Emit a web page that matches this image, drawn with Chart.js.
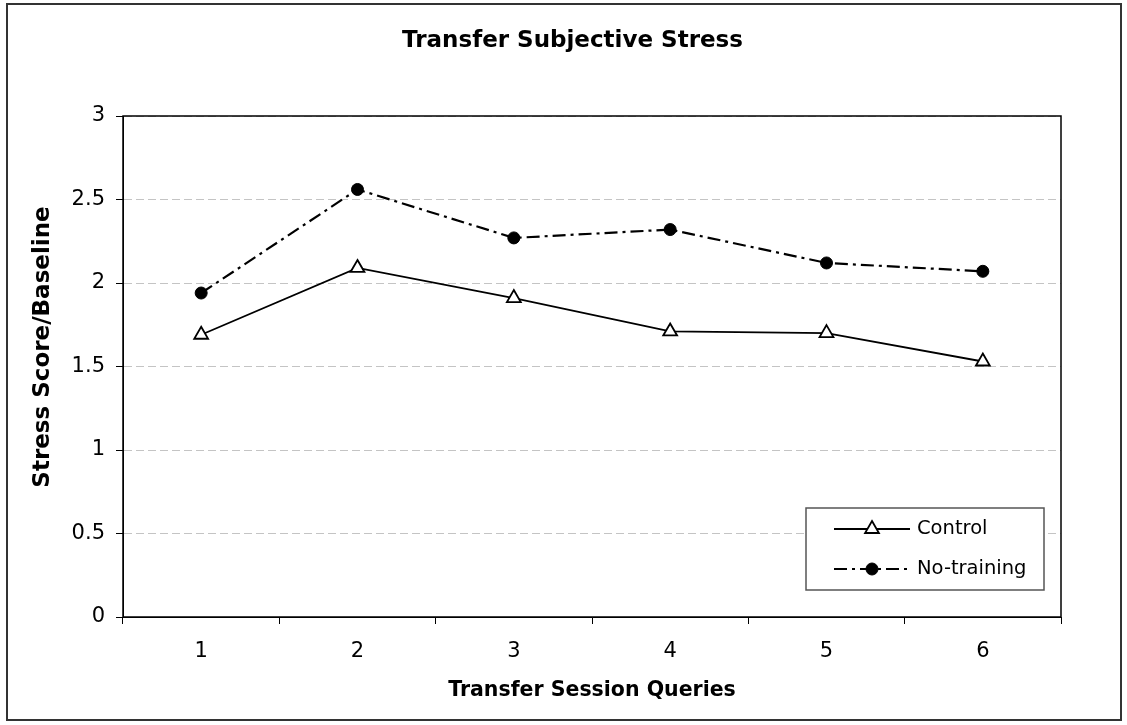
<!DOCTYPE html>
<html>
<head>
<meta charset="utf-8">
<script src="https://cdn.jsdelivr.net/npm/chart.js@4.4.0/dist/chart.umd.min.js"></script>
<style>
  html, body { margin: 0; padding: 0; background: #fff; }
  #wrap { width: 1127px; height: 725px; }
</style>
</head>
<body>
<div id="wrap"><canvas id="chart" width="1127" height="725"></canvas></div>
<script>
const queries = ['1', '2', '3', '4', '5', '6'];
const control = [1.69, 2.09, 1.91, 1.71, 1.70, 1.53];
const noTraining = [1.94, 2.56, 2.27, 2.32, 2.12, 2.07];
const yMin = 0, yMax = 3, yStep = 0.5;

const FONT = '"DejaVu Sans", "Liberation Sans", Arial, sans-serif';
Chart.defaults.font.family = FONT;
Chart.defaults.color = '#000';

// white page, outer frame and the box round the plot area
const framePlugin = {
  id: 'frame',
  beforeDraw(chart) {
    const {ctx, width, height} = chart;
    ctx.save();
    ctx.fillStyle = '#fff';
    ctx.fillRect(0, 0, width, height);
    ctx.restore();
  },
  afterDraw(chart) {
    const {ctx, chartArea: a} = chart;
    ctx.save();
    ctx.strokeStyle = '#000';
    ctx.lineWidth = 1.5;
    ctx.strokeRect(a.left, a.top, a.right - a.left, a.bottom - a.top);
    ctx.strokeStyle = '#333';
    ctx.lineWidth = 2;
    ctx.strokeRect(7, 4, 1114, 716);
    ctx.restore();
  }
};

// y axis title sits a bit above the middle of the plot in the original
const yTitlePlugin = {
  id: 'yTitle',
  afterDraw(chart) {
    const {ctx} = chart;
    ctx.save();
    ctx.translate(43, 347);
    ctx.rotate(-Math.PI / 2);
    ctx.font = 'bold 23px ' + FONT;
    ctx.fillStyle = '#000';
    ctx.textAlign = 'center';
    ctx.textBaseline = 'middle';
    ctx.fillText('Stress Score/Baseline', 0, 0);
    ctx.restore();
  }
};

// legend box drawn inside the plot, bottom right
const insideLegend = {
  id: 'insideLegend',
  afterDraw(chart) {
    const {ctx, chartArea: a} = chart;
    const w = 238, h = 82;
    const left = a.right - 17 - w, top = a.bottom - 27 - h;
    ctx.save();
    ctx.fillStyle = '#fff';
    ctx.fillRect(left, top, w, h);
    ctx.strokeStyle = '#555';
    ctx.lineWidth = 1.5;
    ctx.strokeRect(left, top, w, h);
    chart.data.datasets.forEach((ds, i) => {
      const y = top + 21 + i * 40;
      ctx.strokeStyle = ds.borderColor;
      ctx.lineWidth = ds.borderWidth;
      ctx.setLineDash(ds.borderDash || []);
      ctx.beginPath();
      ctx.moveTo(left + 28, y);
      ctx.lineTo(left + 104, y);
      ctx.stroke();
      ctx.setLineDash([]);
      ctx.fillStyle = ds.pointBackgroundColor;
      ctx.strokeStyle = ds.pointBorderColor;
      ctx.lineWidth = ds.pointBorderWidth;
      Chart.helpers.drawPoint(ctx, {
        pointStyle: ds.pointStyle, radius: ds.pointRadius,
        borderWidth: ds.pointBorderWidth, rotation: 0
      }, left + 66, y);
      ctx.fillStyle = '#000';
      ctx.font = '19.5px ' + FONT;
      ctx.textAlign = 'left';
      ctx.textBaseline = 'middle';
      ctx.fillText(ds.label, left + 111, y);
    });
    ctx.restore();
  }
};

new Chart(document.getElementById('chart'), {
  type: 'line',
  data: {
    labels: queries,
    datasets: [
      {
        label: 'Control',
        data: control,
        borderColor: '#000',
        borderWidth: 1.8,
        pointStyle: 'triangle',
        pointRadius: 8,
        pointBackgroundColor: '#fff',
        pointBorderColor: '#000',
        pointBorderWidth: 1.8,
        tension: 0
      },
      {
        label: 'No-training',
        data: noTraining,
        borderColor: '#000',
        borderWidth: 2.2,
        borderDash: [13, 5, 3, 5],
        pointStyle: 'circle',
        pointRadius: 6,
        pointBackgroundColor: '#000',
        pointBorderColor: '#000',
        pointBorderWidth: 1,
        tension: 0
      }
    ]
  },
  options: {
    responsive: false,
    animation: false,
    devicePixelRatio: 1,
    layout: { padding: { left: 18, right: 0, top: 0, bottom: 0 } },
    plugins: {
      legend: { display: false },
      tooltip: { enabled: false },
      title: {
        display: true,
        text: 'Transfer Subjective Stress',
        font: { size: 23, weight: 'bold', family: FONT },
        color: '#000',
        padding: { top: 27, bottom: 61.4 }
      }
    },
    scales: {
      x: {
        type: 'category',
        offset: true,
        grid: {
          offset: true,
          drawOnChartArea: false,
          tickLength: 7,
          tickColor: '#000',
          tickWidth: 1
        },
        border: { display: true, color: '#000', width: 1 },
        ticks: { font: { size: 21 }, padding: 15, color: '#000' },
        title: {
          display: true,
          text: 'Transfer Session Queries',
          font: { size: 20.5, weight: 'bold' },
          color: '#000',
          padding: { top: 0, bottom: 21.7 }
        },
        afterFit: s => { s.height = 108; }
      },
      y: {
        min: yMin,
        max: yMax,
        grid: {
          color: '#c4c4c4',
          lineWidth: 1,
          tickLength: 7,
          tickColor: '#000',
          tickWidth: 1
        },
        border: { display: true, color: '#000', width: 1, dash: [8, 4] },
        ticks: {
          stepSize: yStep,
          font: { size: 21 },
          padding: 11,
          color: '#000',
          callback: v => String(+v)
        },
        afterFit: s => { s.width = 105; }
      },
      yRight: {
        position: 'right',
        min: yMin,
        max: yMax,
        grid: { display: false },
        border: { display: false },
        ticks: { display: false },
        afterFit: s => { s.width = 66; }
      }
    }
  },
  plugins: [framePlugin, yTitlePlugin, insideLegend]
});
</script>
</body>
</html>
